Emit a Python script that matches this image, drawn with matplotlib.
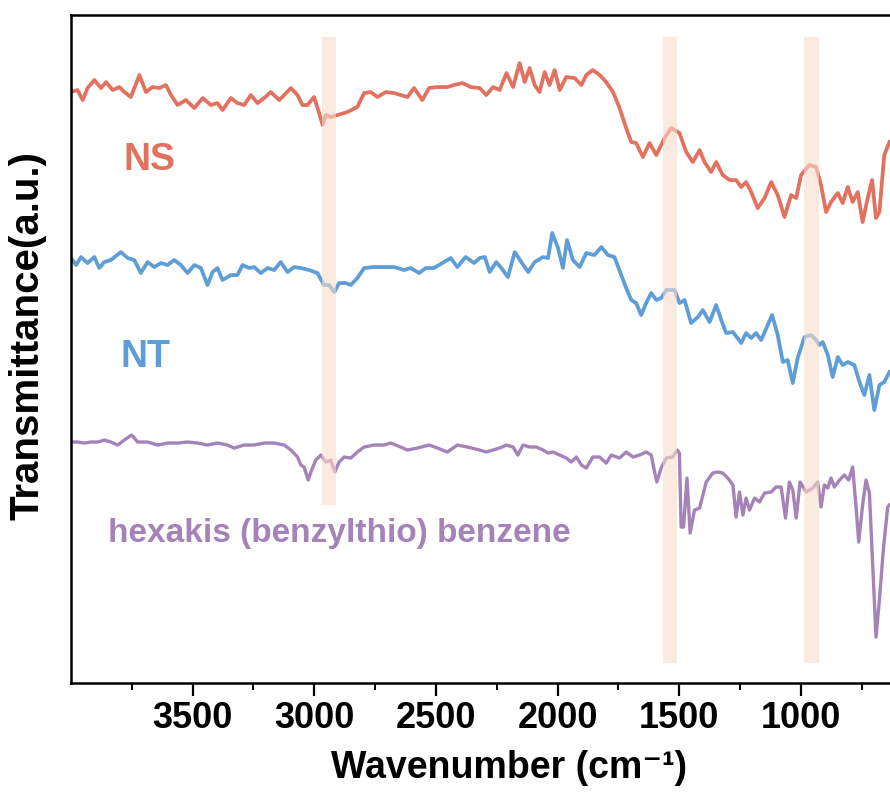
import matplotlib.pyplot as plt

plt.rcParams['font.family'] = ['Liberation Sans', 'DejaVu Sans']
plt.rcParams['font.weight'] = 'bold'

# wavenumber (cm-1) / transmittance (a.u., offset traces)
ns_wn = [4000, 3973, 3952, 3932, 3904, 3877, 3856, 3829, 3801, 3781, 3754, 3719, 3692, 3665,
         3637, 3610, 3589, 3562, 3528, 3493, 3459, 3425, 3398, 3377, 3343, 3316, 3288, 3261,
         3233, 3206, 3179, 3144, 3124, 3096, 3069, 3049, 3028, 3001, 2980, 2966, 2953, 2932,
         2905, 2864, 2823, 2795, 2768, 2741, 2706, 2672, 2645, 2617, 2590, 2556, 2528, 2494,
         2453, 2426, 2391, 2357, 2320, 2293, 2265, 2238, 2210, 2183, 2156, 2135, 2115, 2094,
         2074, 2053, 2033, 2012, 1991, 1964, 1930, 1902, 1882, 1855, 1827, 1800, 1772, 1745,
         1718, 1697, 1677, 1649, 1622, 1594, 1560, 1533, 1499, 1471, 1444, 1416, 1396, 1369,
         1348, 1321, 1293, 1266, 1245, 1225, 1204, 1177, 1149, 1122, 1095, 1067, 1040, 1019,
         999, 965, 937, 917, 896, 876, 848, 828, 807, 787, 766, 746, 725, 707, 691, 677, 657, 636]
ns_t = [591, 593, 583, 595, 603, 595, 601, 593, 596, 591, 586, 608, 591, 596,
        595, 598, 588, 578, 583, 575, 585, 578, 580, 573, 585, 580, 578, 588,
        580, 585, 591, 583, 588, 595, 588, 578, 578, 586, 570, 558, 568, 566,
        568, 571, 576, 590, 591, 586, 591, 590, 588, 586, 595, 583, 595, 596,
        596, 598, 600, 596, 595, 588, 596, 593, 610, 596, 620, 601, 615, 598,
        591, 611, 598, 613, 593, 606, 605, 598, 608, 613, 608, 601, 591, 575,
        555, 541, 540, 526, 540, 528, 545, 555, 550, 531, 521, 533, 521, 511,
        521, 508, 503, 503, 496, 501, 491, 475, 485, 501, 488, 466, 488, 485,
        508, 518, 516, 498, 471, 481, 490, 480, 496, 481, 491, 461, 485, 503, 465, 471, 528, 541]

nt_wn = [4000, 3979, 3959, 3932, 3904, 3884, 3863, 3836, 3795, 3767, 3740, 3713, 3685, 3658,
         3630, 3603, 3576, 3548, 3521, 3493, 3466, 3439, 3418, 3398, 3377, 3343, 3316, 3295,
         3268, 3247, 3220, 3192, 3165, 3138, 3110, 3083, 3055, 3021, 2987, 2960, 2939, 2918,
         2898, 2871, 2850, 2823, 2795, 2754, 2713, 2672, 2631, 2604, 2569, 2542, 2508, 2474,
         2439, 2412, 2378, 2343, 2320, 2299, 2279, 2252, 2231, 2204, 2176, 2149, 2121, 2094,
         2060, 2039, 2022, 1998, 1978, 1961, 1937, 1909, 1882, 1848, 1820, 1793, 1766, 1738,
         1718, 1697, 1677, 1656, 1636, 1615, 1594, 1574, 1553, 1519, 1499, 1478, 1451, 1423,
         1403, 1375, 1348, 1327, 1307, 1279, 1245, 1225, 1204, 1184, 1163, 1136, 1118, 1095,
         1074, 1054, 1033, 1013, 985, 958, 937, 924, 910, 889, 869, 848, 828, 807, 780, 759,
         739, 718, 698, 677, 657, 636]
nt_t = [425, 418, 426, 420, 426, 415, 421, 423, 431, 425, 423, 410, 421, 416,
        420, 418, 423, 418, 410, 418, 415, 398, 411, 415, 403, 408, 408, 418,
        415, 416, 410, 415, 413, 421, 411, 416, 415, 413, 410, 398, 398, 391,
        400, 400, 398, 405, 415, 416, 416, 416, 413, 415, 410, 415, 415, 420,
        425, 416, 426, 420, 425, 426, 411, 421, 415, 406, 431, 421, 411, 421,
        426, 425, 450, 435, 415, 443, 423, 416, 430, 428, 436, 428, 426, 408,
        395, 383, 380, 368, 380, 390, 383, 385, 393, 393, 380, 383, 360, 366,
        373, 361, 378, 363, 350, 351, 340, 350, 345, 350, 343, 358, 368, 348,
        321, 323, 300, 325, 346, 348, 343, 338, 341, 328, 306, 326, 318, 321, 318, 301,
        288, 308, 273, 298, 301, 311]

hb_wn = [4000, 3973, 3945, 3918, 3890, 3863, 3836, 3808, 3781, 3751, 3726, 3685, 3644, 3603,
         3562, 3521, 3480, 3439, 3398, 3357, 3329, 3288, 3247, 3206, 3165, 3124, 3096, 3069,
         3055, 3042, 3025, 3014, 2994, 2973, 2953, 2932, 2916, 2898, 2877, 2850, 2823, 2795,
         2754, 2713, 2686, 2645, 2617, 2576, 2528, 2494, 2453, 2412, 2371, 2320, 2293, 2265,
         2238, 2210, 2183, 2163, 2142, 2115, 2087, 2060, 2039, 2019, 1991, 1964, 1944, 1923,
         1902, 1882, 1855, 1827, 1800, 1779, 1745, 1718, 1690, 1663, 1636, 1615, 1601, 1592,
         1574, 1553, 1526, 1508, 1499, 1492, 1482, 1468, 1455, 1437, 1416, 1389, 1362, 1341,
         1321, 1300, 1279, 1266, 1252, 1238, 1225, 1211, 1190, 1170, 1149, 1122, 1102, 1081,
         1063, 1047, 1033, 1019, 1003, 978, 951, 931, 917, 903, 889, 876, 862, 841, 821, 803,
         787, 773, 762, 746, 732, 718, 705, 691, 677, 661, 643, 636]
hb_t = [241, 241, 240, 241, 241, 243, 241, 238, 243, 248, 241, 241, 238, 240,
        240, 241, 240, 238, 240, 238, 235, 238, 238, 240, 240, 238, 233, 226,
        218, 216, 203, 211, 223, 228, 221, 223, 211, 221, 226, 225, 231, 236,
        238, 238, 240, 236, 233, 235, 238, 235, 231, 238, 236, 233, 231, 233,
        235, 238, 236, 228, 238, 236, 236, 233, 230, 231, 228, 225, 221, 226,
        218, 215, 226, 226, 220, 228, 225, 231, 226, 228, 231, 228, 211, 201,
        215, 225, 226, 233, 230, 156, 156, 205, 150, 173, 175, 201, 210, 211,
        210, 205, 198, 166, 191, 168, 185, 173, 185, 181, 190, 191, 196, 196,
        165, 201, 193, 165, 201, 191, 195, 201, 176, 198, 195, 205, 196, 203, 208, 203,
        216, 176, 141, 178, 203, 190, 120, 46, 83, 133, 176, 178]

band_lo = [2911, 1510, 927]
band_hi = [2969, 1568, 985]
band_bottom = [178, 20, 20]
band_top = [646, 646, 646]

ns_color = '#E2715F'
nt_color = '#5E9DD6'
hb_color = '#A582B8'

fig = plt.figure(figsize=(8.9, 7.92), dpi=100)
ax = fig.add_axes([0.0798, 0.1376, 0.984, 0.8434])

ax.plot(ns_wn, ns_t, color=ns_color, lw=2.7, solid_joinstyle='round')
ax.plot(nt_wn, nt_t, color=nt_color, lw=2.7, solid_joinstyle='round')
ax.plot(hb_wn, hb_t, color=hb_color, lw=2.4, solid_joinstyle='round')

# shaded bands sit over the traces, so the lines look washed out there
for lo, hi, b, t in zip(band_lo, band_hi, band_bottom, band_top):
    ax.fill_between([lo, hi], b, t, color='#F9DCCB', alpha=0.6, lw=0, zorder=3)

ax.text(3786, 523, 'NS', color=ns_color, fontsize=27, fontweight='bold', ha='left', va='center')
ax.text(3795, 326, 'NT', color=nt_color, fontsize=27, fontweight='bold', ha='left', va='center')
ax.text(3848, 150, 'hexakis (benzylthio) benzene', color=hb_color, fontsize=24,
        fontweight='bold', ha='left', va='center')

ax.set_xlim(4000, 400)
ax.set_ylim(0, 668)
ax.set_xticks([3500, 3000, 2500, 2000, 1500, 1000])
ax.set_xticks(range(3750, 600, -250), minor=True)
ax.set_yticks([])
ax.tick_params(axis='x', which='major', direction='out', length=9, width=1.6,
               labelsize=26, pad=4)
ax.tick_params(axis='x', which='minor', direction='out', length=5, width=1.4)
for lab in ax.get_xticklabels():
    lab.set_fontweight('bold')
for sp in ax.spines.values():
    sp.set_linewidth(1.8)

ax.set_xlabel('Wavenumber (cm⁻¹)', fontsize=27, fontweight='bold', labelpad=10)
ax.set_ylabel('Transmittance(a.u.)', fontsize=29, fontweight='bold')
ax.yaxis.set_label_coords(-0.028, 0.52)

fig.savefig('out.png', dpi=100)
